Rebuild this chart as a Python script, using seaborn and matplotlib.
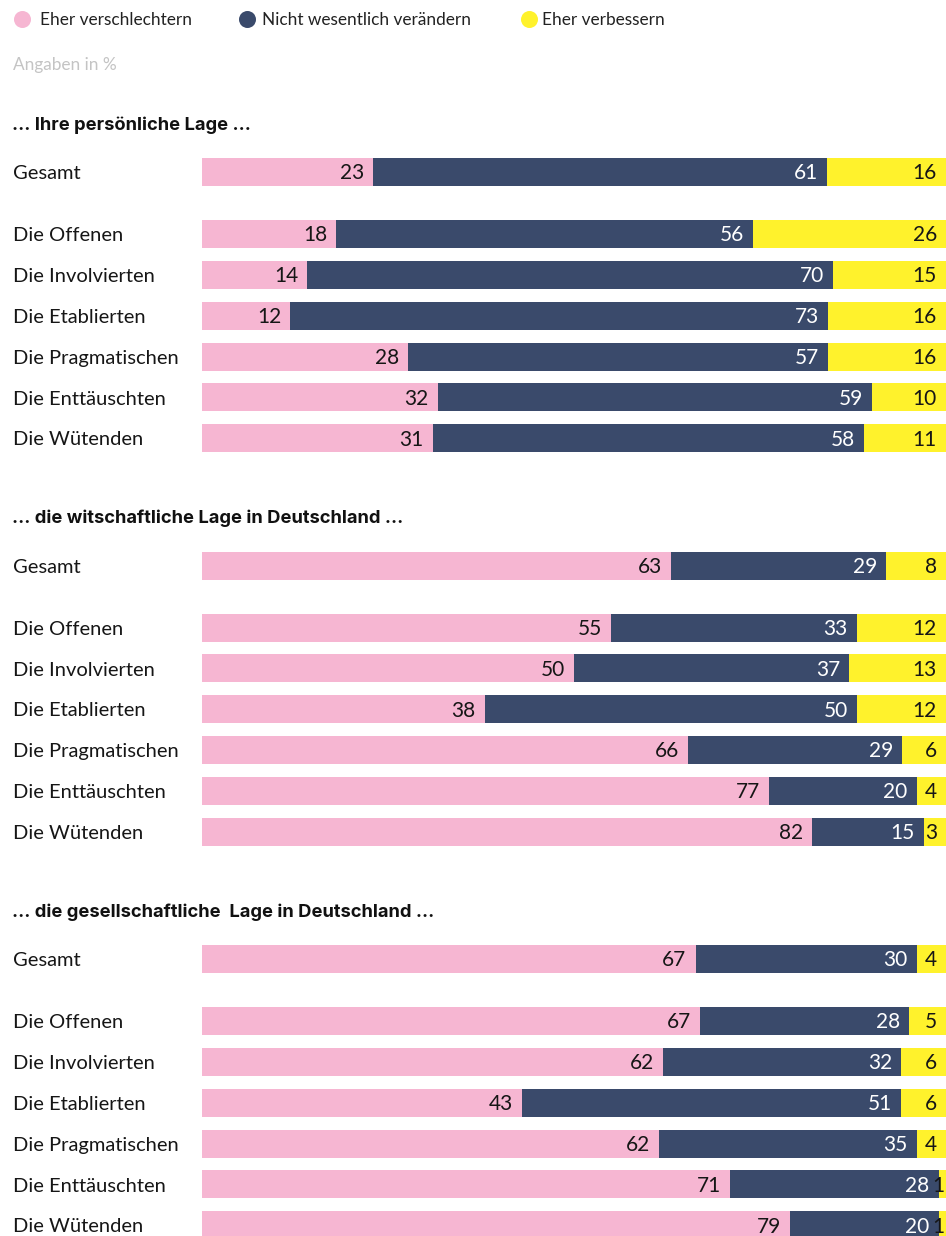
import numpy as np
import pandas as pd
import matplotlib
matplotlib.use("Agg")
import matplotlib.pyplot as plt
import seaborn as sns

# ── Data ────────────────────────────────────────────────────────────────────
SEGMENTS = ["Eher verschlechtern", "Nicht wesentlich verändern", "Eher verbessern"]
GROUPS = ["Gesamt", "Die Offenen", "Die Involvierten", "Die Etablierten",
          "Die Pragmatischen", "Die Enttäuschten", "Die Wütenden"]
SECTIONS = ["... Ihre persönliche Lage ...",
            "... die witschaftliche Lage in Deutschland ...",
            "... die gesellschaftliche  Lage in Deutschland ..."]

persoenlich_schlechter = [23, 18, 14, 12, 28, 32, 31]
persoenlich_gleich = [61, 56, 70, 73, 57, 59, 58]
persoenlich_besser = [16, 26, 15, 16, 16, 10, 11]

wirtschaft_schlechter = [63, 55, 50, 38, 66, 77, 82]
wirtschaft_gleich = [29, 33, 37, 50, 29, 20, 15]
wirtschaft_besser = [8, 12, 13, 12, 6, 4, 3]

gesellschaft_schlechter = [67, 67, 62, 43, 62, 71, 79]
gesellschaft_gleich = [30, 28, 32, 51, 35, 28, 20]
gesellschaft_besser = [4, 5, 6, 6, 4, 1, 1]

SECTION_VALUES = [
    (persoenlich_schlechter, persoenlich_gleich, persoenlich_besser),
    (wirtschaft_schlechter, wirtschaft_gleich, wirtschaft_besser),
    (gesellschaft_schlechter, gesellschaft_gleich, gesellschaft_besser),
]

# ── Style / layout (pixels) ─────────────────────────────────────────────────
COLORS = ["#f6b6d2", "#3a4a6b", "#fff22c"]
TEXT_COLORS = ["#161616", "white", "#161616"]
W, H = 946, 1236
BAR_X0, BAR_X1 = 202, 946
PX_PER_UNIT = (BAR_X1 - BAR_X0) / 100
TITLE_Y = [123, 516.5, 910]
GESAMT_OFFSET = 49
FIRST_OFFSET = 111
ROW_STEP = 40.85
BAR_H = 28

sns.set_theme(style="white")
plt.rcParams["font.family"] = ["Lato", "DejaVu Sans"]


def px_x(px):
    return (px - BAR_X0) / PX_PER_UNIT


# long table with normalised cumulative shares
rows = []
for s, (bad, same, good) in enumerate(SECTION_VALUES):
    for i, g in enumerate(GROUPS):
        y = TITLE_Y[s] + (GESAMT_OFFSET if i == 0 else FIRST_OFFSET + (i - 1) * ROW_STEP)
        vals = np.array([bad[i], same[i], good[i]], dtype=float)
        share = vals / vals.sum() * 100
        cum = np.cumsum(share)
        rows.append({"section": s, "group": g, "y": y,
                     "v0": bad[i], "v1": same[i], "v2": good[i],
                     "s0": share[0], "s1": share[1], "s2": share[2],
                     "cum0": cum[0], "cum1": cum[1], "cum2": cum[2]})
df = pd.DataFrame(rows)

fig = plt.figure(figsize=(W / 100, H / 100), dpi=100)
ax = fig.add_axes([0, 0, 1, 1])

native_w = np.diff(np.unique(df["y"])).min()
for k in (2, 1, 0):
    sns.barplot(data=df, x=f"cum{k}", y="y", orient="h", native_scale=True,
                color=COLORS[k], saturation=1, width=BAR_H / native_w,
                errorbar=None, linewidth=0, ax=ax)

ax.set_xlim(px_x(0), px_x(W))
ax.set_ylim(H, 0)
ax.axis("off")

# value labels
for _, r in df.iterrows():
    for k in range(3):
        seg_px = r[f"s{k}"] * PX_PER_UNIT
        pad = 9 if seg_px > 14 else 1.5
        ax.text(r[f"cum{k}"] - pad / PX_PER_UNIT, r["y"] + 7.4, f"{int(r[f'v{k}'])}",
                ha="right", va="baseline", fontsize=15, color=TEXT_COLORS[k])
    ax.text(px_x(13), r["y"] + 7.2, r["group"], ha="left", va="baseline",
            fontsize=14.5, color="#161616")

# section titles
for s, title in enumerate(SECTIONS):
    ax.text(px_x(12), TITLE_Y[s] + 6.8, title, ha="left", va="baseline",
            fontsize=13.2, fontweight="bold", color="#111111",
            family=["Inter", "Lato", "DejaVu Sans"])

# legend
LEGEND_X = [22, 247, 529]
LEGEND_TEXT_X = [40, 262, 542]
for k, name in enumerate(SEGMENTS):
    ax.scatter(px_x(LEGEND_X[k]), 19, s=150, color=COLORS[k], linewidths=0,
               clip_on=False)
    ax.text(px_x(LEGEND_TEXT_X[k]), 19 + 6, name, ha="left", va="baseline",
            fontsize=12.4, color="#222222")

ax.text(px_x(13), 64 + 6, "Angaben in %", ha="left", va="baseline",
        fontsize=12.4, color="#c4c4c4")

fig.savefig("out.png", dpi=100)
